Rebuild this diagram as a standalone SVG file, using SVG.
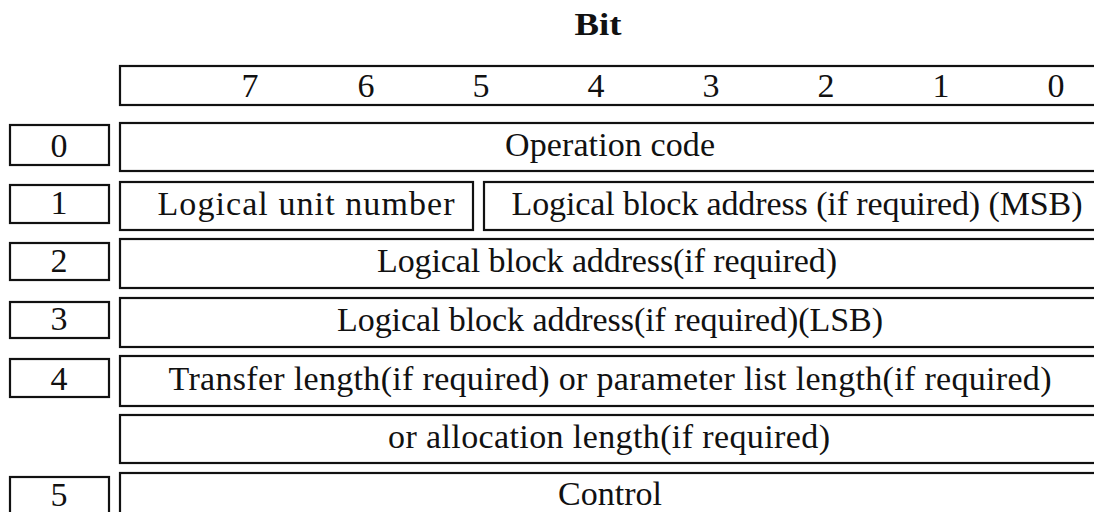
<svg xmlns="http://www.w3.org/2000/svg" width="1094" height="512" viewBox="0 0 1094 512">
<style>
rect{fill:#fff;stroke:#111;stroke-width:2.2}
text{font-family:"Liberation Serif","Times New Roman",serif;font-size:34px;fill:#111;text-anchor:middle}
.b{font-weight:bold;font-size:31px}
</style>
<rect x="0" y="0" width="1094" height="512" style="stroke:none"/>
<g id="title"><text class="b" x="598" y="35" textLength="47" lengthAdjust="spacingAndGlyphs">Bit</text></g>
<g id="bits">
<rect x="120" y="66" width="990" height="39"/>
<text x="250" y="97">7</text><text x="366" y="97">6</text><text x="481" y="97">5</text><text x="596" y="97">4</text>
<text x="711" y="97">3</text><text x="826" y="97">2</text><text x="941" y="97">1</text><text x="1056" y="97">0</text>
</g>
<g id="row0">
<rect x="10" y="125" width="99" height="40"/><text x="59" y="157">0</text>
<rect x="120" y="123" width="990" height="48"/><text x="610" y="156" textLength="210">Operation code</text>
</g>
<g id="row1">
<rect x="10" y="185" width="99" height="38"/><text x="59" y="214">1</text>
<rect x="120" y="182" width="353" height="48"/><text x="306" y="215" textLength="297">Logical unit number</text>
<rect x="484" y="182" width="626" height="48"/><text x="797" y="215" textLength="571">Logical block address (if required) (MSB)</text>
</g>
<g id="row2">
<rect x="10" y="243" width="99" height="37"/><text x="59" y="272">2</text>
<rect x="120" y="239" width="990" height="49"/><text x="607" y="272" textLength="460">Logical block address(if required)</text>
</g>
<g id="row3">
<rect x="10" y="302" width="99" height="36"/><text x="59" y="330">3</text>
<rect x="120" y="298" width="990" height="49"/><text x="610" y="331" textLength="546">Logical block address(if required)(LSB)</text>
</g>
<g id="row4">
<rect x="10" y="359" width="99" height="38"/><text x="59" y="390">4</text>
<rect x="120" y="356" width="990" height="50"/><text x="610" y="390" textLength="883">Transfer length(if required) or parameter list length(if required)</text>
</g>
<g id="row4b">
<rect x="120" y="415" width="990" height="48"/><text x="609" y="448" textLength="442">or allocation length(if required)</text>
</g>
<g id="row5">
<rect x="10" y="477" width="99" height="50"/><text x="59" y="506">5</text>
<rect x="120" y="473" width="990" height="60"/><text x="610" y="505">Control</text>
</g>
<g id="connectors"></g>
</svg>
